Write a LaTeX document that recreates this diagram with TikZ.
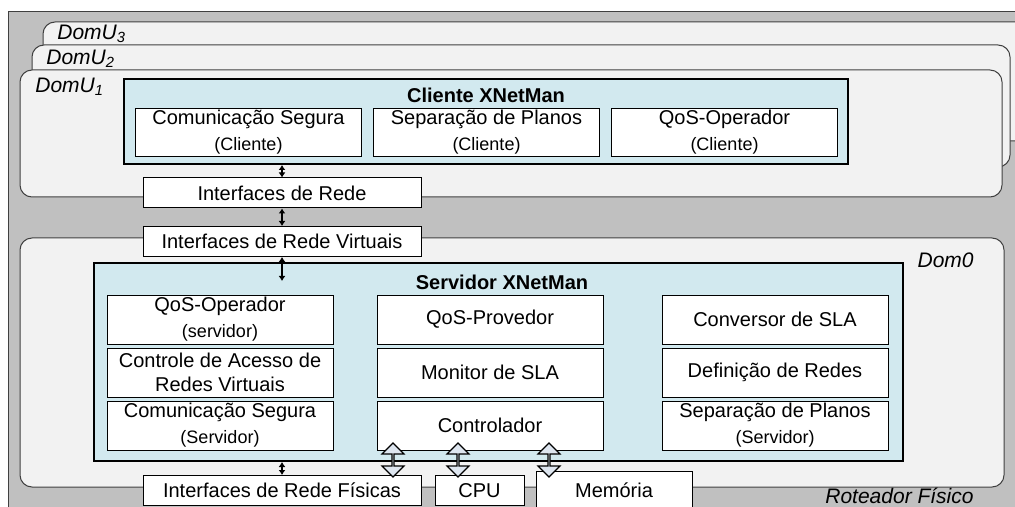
\documentclass[tikz,border=0pt]{standalone}
\usepackage{fontspec}
\setmainfont{Liberation Sans}
\usepackage{xcolor}
\usetikzlibrary{positioning, shapes.arrows, arrows.meta}

\definecolor{routergray}{RGB}{192,192,192}
\definecolor{domfill}{RGB}{242,242,242}
\definecolor{xnetblue}{RGB}{210,233,239}
\definecolor{busfill}{RGB}{222,230,240}
\definecolor{edgegray}{RGB}{64,64,64}

\begin{document}
\begin{tikzpicture}[x=0.5pt, y=-0.5pt]

    \tikzset{
        domframe/.style = {draw=edgegray, fill=domfill, rounded corners=6pt, line width=0.5pt},
        xnetbox/.style = {rectangle, draw=black, fill=xnetblue, line width=1pt},
        modbox/.style = {rectangle, minimum width=113pt, minimum height=24.5pt, inner sep=0.5pt, align=center, text centered, draw=black, fill=white, line width=0.5pt},
        ifbox/.style = {rectangle, minimum width=139pt, minimum height=15pt, inner sep=1pt, text centered, draw=black, fill=white, line width=0.5pt},
        domlabel/.style = {font=\fontsize{10.5}{12.6}\selectfont\itshape, inner sep=0pt},
        titlelabel/.style = {font=\bfseries, inner sep=0pt},
        arrow/.style = {line width=0.7pt, {Latex[length=2.5pt,width=3.5pt]}-{Latex[length=2.5pt,width=3.5pt]}},
        bigarrow/.style = {double arrow, rotate=90, minimum width=11pt, minimum height=17pt, double arrow head extend=3pt, inner sep=0pt, draw=black, fill=busfill, line width=0.6pt}
    }

    \useasboundingbox (0,0) rectangle (1015,507);
    \clip (0,0) rectangle (1015,507);

    % router and its domains
    \draw[draw=edgegray, fill=routergray] (8,11) rectangle (1040,530);
    \draw[domframe] (43,22) rectangle (1040,141);
    \draw[domframe] (32,45) rectangle (1010,167);
    \draw[domframe] (20,70) rectangle (1002,197);
    \draw[domframe] (20,238) rectangle (1004,487);

    % client side (DomU)
    \node (cliente) [xnetbox, minimum width=362pt, minimum height=42.5pt] at (486,121.5) {};
    \node (clitit) [titlelabel] at (486,95) {Cliente XNetMan};
    \node (cseg) [modbox, minimum height=24pt] at (248.5,132.5) {Comunicação Segura\\[1pt]{\small (Cliente)}};
    \node (csep) [modbox, minimum height=24pt, right=5.5pt of cseg] {Separação de Planos\\[1pt]{\small (Cliente)}};
    \node (cqos) [modbox, minimum height=24pt, right=5.5pt of csep] {QoS-Operador\\[1pt]{\small (Cliente)}};

    % server side (Dom0)
    \node (servidor) [xnetbox, minimum width=404.5pt, minimum height=99pt] at (498.5,362) {};
    \node (srvtit) [titlelabel] at (502,282) {Servidor XNetMan};
    \node (sqos) [modbox] at (220,319.5) {QoS-Operador\\[1pt]{\small (servidor)}};
    \node (sacc) [modbox, below=1.5pt of sqos] {Controle de Acesso de\\Redes Virtuais};
    \node (sseg) [modbox, below=1.5pt of sacc] {Comunicação Segura\\[1pt]{\small (Servidor)}};
    \node (prov) [modbox, right=21.5pt of sqos] {QoS-Provedor};
    \node (mon) [modbox, below=1.5pt of prov] {Monitor de SLA};
    \node (ctrl) [modbox, below=1.5pt of mon] {Controlador};
    \node (conv) [modbox, right=29pt of prov] {Conversor de SLA};
    \node (defr) [modbox, below=1.5pt of conv] {Definição de Redes};
    \node (ssep) [modbox, below=1.5pt of defr] {Separação de Planos\\[1pt]{\small (Servidor)}};

    % network interfaces and hardware
    \node (ifrede) [ifbox] at (282,193) {Interfaces de Rede};
    \node (ifvirt) [ifbox] at (282,241.5) {Interfaces de Rede Virtuais};
    \node (iffis) [ifbox] at (282,490.5) {Interfaces de Rede Físicas};
    \node (cpu) [ifbox, minimum width=44.5pt, right=6.5pt of iffis] {CPU};
    \node (mem) [ifbox, minimum width=78pt, minimum height=19pt, right=5.5pt of cpu] {Memória};

    \coordinate[below=12pt of ifvirt.south] (srvin);

    \draw[arrow] (cliente.south -| ifrede.north) -- (ifrede.north);
    \draw[arrow] (ifrede.south) -- (ifvirt.north);
    \draw[arrow] (ifvirt.south) -- (srvin);
    \draw[arrow] (servidor.south -| iffis.north) -- (iffis.north);

    % buses to the hardware
    \node (busfis) [bigarrow] at (393,460) {};
    \node (buscpu) [bigarrow] at (458,460) {};
    \node (busmem) [bigarrow] at (549,460) {};

    \node (lu3) [domlabel, anchor=west] at (57,34) {DomU\textsubscript{3}};
    \node (lu2) [domlabel, anchor=west] at (46,59) {DomU\textsubscript{2}};
    \node (lu1) [domlabel, anchor=west] at (35,87) {DomU\textsubscript{1}};
    \node (ld0) [domlabel, anchor=east] at (974,260) {Dom0};
    \node (lrf) [domlabel, anchor=east] at (974,496) {Roteador Físico};
\end{tikzpicture}
\end{document}
